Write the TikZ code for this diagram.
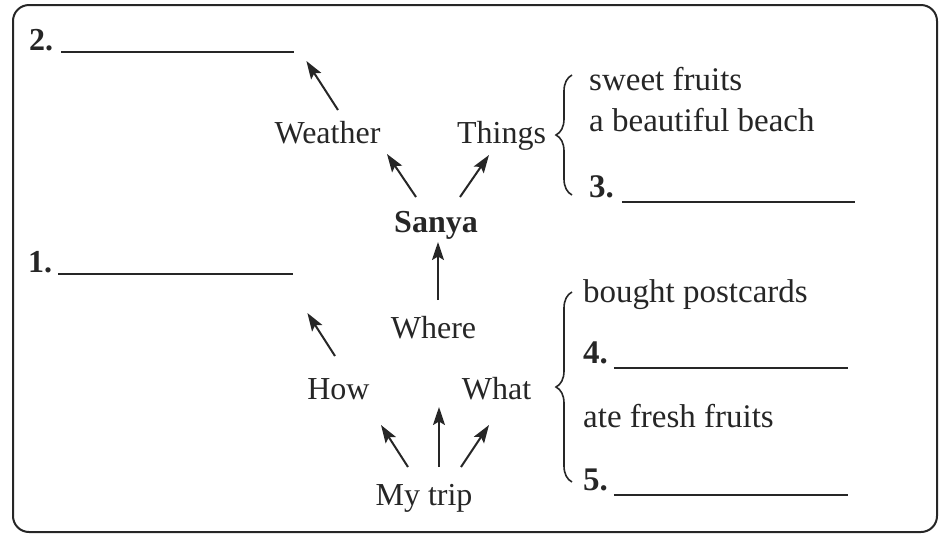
\documentclass[tikz,border=0pt]{standalone}
\usepackage{fontspec}
\setmainfont{Liberation Serif}
\usetikzlibrary{arrows.meta,decorations.pathreplacing}
\newcommand{\fillin}[2]{\rule[-#2]{#1}{1.8pt}}

\begin{document}
\begin{tikzpicture}[x=1pt, y=-1pt, color=black!85,
  tag/.style={font=\fontsize{32}{38}\selectfont, inner sep=0pt, anchor=base},
  item/.style={font=\fontsize{33}{40}\selectfont, inner sep=0pt, anchor=base west},
  arr/.style={line width=2pt, -{Stealth[length=18pt, width=12pt, inset=3.5pt]}},
  brc/.style={line width=1.6pt, decorate, decoration={brace, amplitude=16pt}}]
\useasboundingbox (0,0) rectangle (947,542);
\draw[line width=2pt, rounded corners=16pt] (13,5) rectangle (937,532);
\node[tag] (trip) at (424,505) {My trip};
\node[tag] (how) at (338.5,399) {How};
\node[tag] (what) at (496.5,399) {What};
\node[tag] (where) at (433.5,338) {Where};
\node[tag, font=\fontsize{32}{38}\selectfont\bfseries] (sanya) at (436,232) {Sanya};
\node[tag] (weather) at (327.5,143) {Weather};
\node[tag] (things) at (501.5,143) {Things};
\node[tag, anchor=base west] (n2) at (29,50) {\textbf{2.}\hspace{8pt}\fillin{233pt}{2.6pt}};
\node[tag, anchor=base west] (n1) at (28,272) {\textbf{1.}\hspace{6pt}\fillin{235pt}{2.6pt}};
\node[item] (sweet) at (589,90) {sweet fruits};
\node[item] (beach) at (589,131) {a beautiful beach};
\node[item] (n3) at (589,197) {\textbf{3.}\hspace{8pt}\fillin{233pt}{5.8pt}};
\node[item] (bought) at (583,302) {bought postcards};
\node[item] (n4) at (583,363) {\textbf{4.}\hspace{6pt}\fillin{234pt}{5.8pt}};
\node[item] (fresh) at (583,427) {ate fresh fruits};
\node[item] (n5) at (583,490) {\textbf{5.}\hspace{6pt}\fillin{234pt}{5.8pt}};
\draw[brc] ([shift={(-17,-2)}]n3.base west) -- ([shift={(-17,-15)}]sweet.base west);
\draw[brc] ([shift={(-11,-8)}]n5.base west) -- ([shift={(-11,-10)}]bought.base west);
\draw[arr] ([shift={(-16,-38)}]trip.base) -- ([shift={(42.5,26)}]how.base);
\draw[arr] ([shift={(15,-38)}]trip.base) -- ([shift={(5.5,69)}]where.base);
\draw[arr] ([shift={(37,-38)}]trip.base) -- ([shift={(-7.5,26)}]what.base);
\draw[arr] ([shift={(-3.5,-43)}]how.base) -- ([shift={(14,41)}]n1.base east);
\draw[arr] ([shift={(4.5,-38)}]where.base) -- ([shift={(2,10)}]sanya.base);
\draw[arr] ([shift={(-20,-35)}]sanya.base) -- ([shift={(59.5,11)}]weather.base);
\draw[arr] ([shift={(24,-35)}]sanya.base) -- ([shift={(-12.5,12)}]things.base);
\draw[arr] ([shift={(10.5,-33)}]weather.base) -- ([shift={(12,11)}]n2.base east);
\end{tikzpicture}
\end{document}
